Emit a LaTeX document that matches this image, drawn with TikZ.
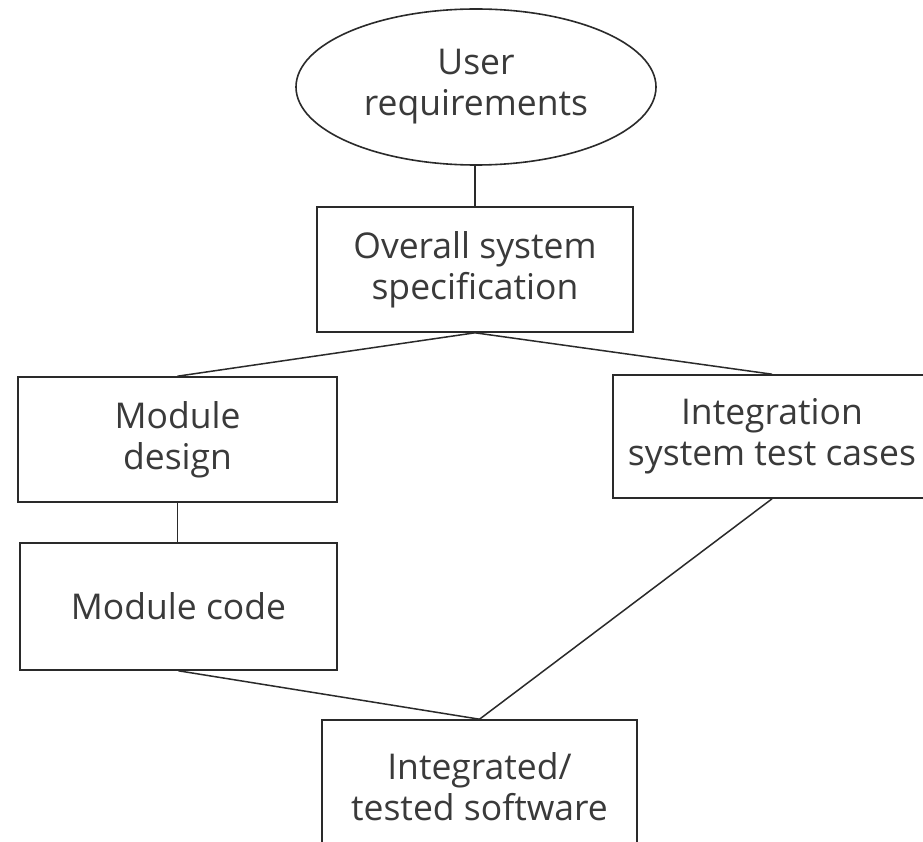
\documentclass[tikz,border=0pt]{standalone}
\usepackage{fontspec}
\setmainfont{Open Sans}
\usetikzlibrary{shapes.geometric}
\definecolor{linegray}{HTML}{2A2A2A}
\definecolor{textgray}{HTML}{3A3A3A}
\begin{document}
\begin{tikzpicture}[x=1pt,y=-1pt,
  box/.style={draw=linegray, line width=1.6pt, rectangle, inner sep=0pt,
    align=center, text=textgray, font={\fontsize{35.5}{41}\selectfont}},
  oval/.style={box, ellipse},
  conn/.style={draw=linegray, line width=1.5pt}]
\useasboundingbox (0,0) rectangle (923,842);
\fill[white] (0,0) rectangle (923,842);
\clip (0,0) rectangle (923,842);

\node[oval, minimum width=360pt, minimum height=156pt] (ur) at (476,87) {User\\requirements};
\node[box, minimum width=316pt, minimum height=125pt] (spec) at (475,269.5) {Overall system\\specification};
\node[box, minimum width=319pt, minimum height=125pt] (md) at (177.5,439.5) {Module\\design};
\node[box, minimum width=317pt, minimum height=127pt] (mc) at (178.5,606.5) {Module code};
\node[box, minimum width=318pt, minimum height=123pt] (it) at (772,436.5) {Integration\\system test cases};
\node[box, minimum width=315pt, minimum height=133pt] (itg) at (479.5,786.5) {Integrated/\\tested software};

\draw[conn] (ur.south -| spec.north) -- (spec.north);
\draw[conn] (spec.south) -- (md.north);
\draw[conn] (spec.south) -- (it.north);
\draw[conn] (md.south) -- (md.south |- mc.north);
\draw[conn] (mc.south) -- (itg.north);
\draw[conn] (it.south) -- (itg.north);
\end{tikzpicture}
\end{document}
